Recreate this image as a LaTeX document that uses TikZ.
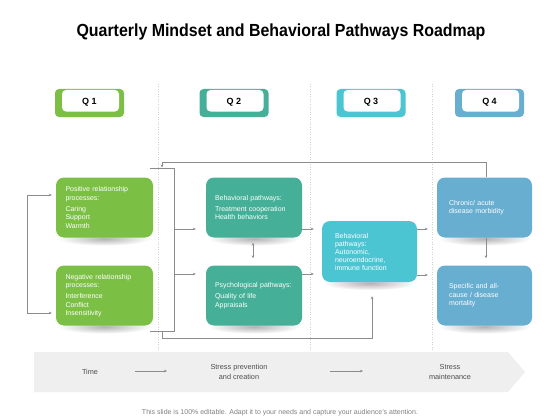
\documentclass[tikz,border=0pt]{standalone}
\usepackage{fontspec}
\setmainfont{Liberation Sans}
\newfontfamily\titlefont[FakeStretch=0.91]{Liberation Sans}
\usetikzlibrary{arrows.meta,fadings}
\definecolor{cgreen}{HTML}{7CBF45}
\definecolor{cteal}{HTML}{45B097}
\definecolor{ccyan}{HTML}{4CC5D3}
\definecolor{cblue}{HTML}{68AED0}
\definecolor{cline}{HTML}{8C8C8C}
\definecolor{cbanner}{HTML}{EFEFEF}
\definecolor{cbtext}{HTML}{4D4D4D}
\pgfdeclarelayer{bg}
\pgfdeclarelayer{shd}
\pgfsetlayers{bg,shd,main}
\tikzfading[name=softfade, inner color=transparent!0, outer color=transparent!100]
\begin{document}
\begin{tikzpicture}[x=1pt,y=-1pt,
  box/.style={rounded corners=8pt, minimum height=60pt, align=left, text=white,
    font=\fontsize{7}{8.5}\selectfont, inner ysep=2pt},
  qbox/.style={fill=#1, rounded corners=4pt, minimum width=69pt, minimum height=28pt,
    inner sep=0pt, font=\bfseries\fontsize{9}{10}\selectfont,
    path picture={\fill[white] ([xshift=7pt,yshift=-1pt]path picture bounding box.north west)
      rectangle ([xshift=-5pt,yshift=5.5pt]path picture bounding box.south east);}},
  softshadow/.style={fill=black, opacity=0.3, path fading=softfade},
  conn/.style={draw=cline, line width=0.6pt},
  arr/.style={conn, -{Stealth[length=3pt,width=2.6pt]}},
  arrtwo/.style={conn, {Stealth[length=3pt,width=2.6pt]}-{Stealth[length=3pt,width=2.6pt]}},
  sep/.style={draw=black!18, line width=0.4pt, dash pattern=on 1pt off 1.5pt},
  btext/.style={text=cbtext, font=\fontsize{7.3}{9.5}\selectfont, align=center}
]
\useasboundingbox (0,0) rectangle (560,420);
\begin{pgfonlayer}{bg}
\fill[white] (0,0) rectangle (560,420);
\end{pgfonlayer}

% title
\node[font=\titlefont\bfseries\fontsize{17.5}{20}\selectfont] (title) at (281,32)
  {Quarterly Mindset and Behavioral Pathways Roadmap};

% separators
\draw[sep] (158,84) -- (158,350);
\draw[sep] (310,84) -- (310,350);
\draw[sep] (432,84) -- (432,350);

% quarter headers
\node[qbox=cgreen] (q1) at (89.5,103) {\raisebox{2.5pt}{Q 1}};
\node[qbox=cteal]  (q2) at (234,103) {\raisebox{2.5pt}{Q 2}};
\node[qbox=ccyan]  (q3) at (371,103) {\raisebox{2.5pt}{Q 3}};
\node[qbox=cblue]  (q4) at (489.5,103) {\raisebox{2.5pt}{Q 4}};

% boxes
\node[box, fill=cgreen, text width=78pt, inner xsep=9.5pt] (pos) at (104.5,207.5)
  {Positive relationship\\processes:\\[2.5pt]Caring\\Support\\Warmth};
\node[box, fill=cgreen, text width=78pt, inner xsep=9.5pt] (neg) at (104.5,295.5)
  {Negative relationship\\processes:\\[2.5pt]Interference\\Conflict\\Insensitivity};
\node[box, fill=cteal, text width=78pt, inner xsep=9pt] (beh) at (254,207.5)
  {Behavioral pathways:\\[2.5pt]Treatment cooperation\\Health behaviors};
\node[box, fill=cteal, text width=78pt, inner xsep=9pt] (psy) at (254,295.5)
  {Psychological pathways:\\[2.5pt]Quality of life\\Appraisals};
\node[box, fill=ccyan, text width=69pt, inner xsep=13pt, minimum height=61pt,
  font=\fontsize{7}{8}\selectfont] (cy) at (369.5,251.5)
  {Behavioral\\pathways:\\Autonomic,\\neuroendocrine,\\immune function};
\node[box, fill=cblue, text width=71pt, inner xsep=12pt] (chr) at (484.5,207.5)
  {Chronic/ acute\\disease morbidity};
\node[box, fill=cblue, text width=71pt, inner xsep=12pt] (spe) at (484.5,295.5)
  {Specific and all-\\cause / disease\\mortality};

% soft shadows under the boxes
\begin{pgfonlayer}{shd}
\foreach \b in {pos,neg,beh,psy,cy,chr,spe}{
  \fill[softshadow] ([yshift=-1pt]\b.south) ellipse (46pt and 7pt);
}
\end{pgfonlayer}

% left bracket
\draw[arrtwo, shorten <=4pt, shorten >=4pt] (pos.west |- 0,195) -- ++(-29,0) |- (neg.west |- 0,313);

% middle bracket
\coordinate (btl) at (150,168);
\coordinate (btr) at (174,168);
\coordinate (bbr) at (174,331);
\coordinate (bbl) at (150,331);
\coordinate (btop) at (162,168);
\coordinate (bbot) at (162,331);
\coordinate (bm1) at (174,229);
\coordinate (bm2) at (174,274);
\draw[conn] (btl) -- (btr) -- (bbr) -- (bbl);
\draw[arr, shorten >=10pt] (bm1) -- (bm1 -| beh.west);
\draw[arr, shorten >=10pt] (bm2) -- (bm2 -| psy.west);

% top and bottom loops
\draw[arr, shorten >=0.5pt] ([xshift=2pt]chr.north) -- ++(0,-15.5) -| (btop);
\draw[arr, shorten >=14pt] (bbot) -- ++(0,7) -| ([xshift=2.5pt]cy.south);

% teal <-> teal
\draw[arrtwo, shorten <=5pt, shorten >=7pt] ([xshift=-1pt]beh.south) -- ([xshift=-1pt]psy.north);

% teal -> cyan
\draw[arr, shorten >=8pt] (beh.east |- 0,229) -- (cy.west |- 0,229);
\draw[arr, shorten >=8pt] (psy.east |- 0,274) -- (cy.west |- 0,274);

% cyan -> blue
\draw[arr, shorten >=9pt] (cy.east |- 0,229) -- (chr.west |- 0,229);
\draw[arr, shorten >=9pt] (cy.east |- 0,275) -- (spe.west |- 0,275);

% blue -> blue
\draw[arr, shorten >=7pt] ([xshift=1.5pt]chr.south) -- ([xshift=1.5pt]spe.north);

% banner
\fill[cbanner] (34,352) -- (508,352) -- (525,372) -- (508,392) -- (34,392) -- cycle;
\node[btext] (time) at (90,372) {Time};
\node[btext] (prev) at (239,372) {Stress prevention\\and creation};
\node[btext] (maint) at (450,372) {Stress\\maintenance};
\coordinate (ta) at (135,371);
\coordinate (tb) at (167,371);
\coordinate (tc) at (330,371);
\coordinate (td) at (363,371);
\draw[arr, line width=0.5pt] (ta) -- (tb);
\draw[arr, line width=0.5pt] (tc) -- (td);

% footer
\node[text=black!50, font=\fontsize{7}{8}\selectfont] (foot) at (280,413)
  {This slide is 100\% editable. Adapt it to your needs and capture your audience's attention.};
\end{tikzpicture}
\end{document}
